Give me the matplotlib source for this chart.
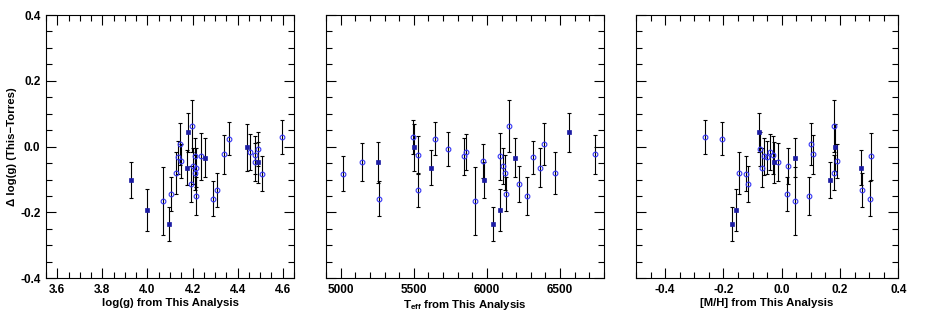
import matplotlib
matplotlib.use("Agg")
import matplotlib.pyplot as plt
from matplotlib.ticker import MultipleLocator, FormatStrFormatter

plt.rcParams['font.family'] = ['Liberation Sans', 'DejaVu Sans']
plt.rcParams['font.weight'] = 'bold'
plt.rcParams['mathtext.fontset'] = 'custom'
plt.rcParams['mathtext.rm'] = 'Liberation Sans:bold'
plt.rcParams['mathtext.bf'] = 'Liberation Sans:bold'
plt.rcParams['mathtext.it'] = 'Liberation Sans:bold'

# ---- data: squares (one sample) ----
sq_logg = [3.926, 3.997, 4.095, 4.181, 4.174, 4.256, 4.442, 4.490]
sq_teff = [5982, 6088, 6041, 6559, 5615, 6190, 5503, 5254]
sq_mh = [0.164, -0.156, -0.172, -0.079, 0.272, 0.045, 0.184, -0.026]
sq_dlogg = [-0.102, -0.193, -0.235, 0.043, -0.064, -0.034, -0.002, -0.048]
sq_err = [0.054, 0.064, 0.051, 0.058, 0.054, 0.059, 0.072, 0.063]

# ---- data: circles (other sample) ----
ci_logg = [4.199, 4.598, 4.361, 4.144, 4.491, 4.453, 4.339, 4.479, 4.212, 4.237,
           4.135, 4.147, 4.475, 4.204, 4.214, 4.209, 4.127, 4.507, 4.195, 4.308,
           4.105, 4.216, 4.289, 4.071]
ci_teff = [6149, 5492, 5646, 6389, 5732, 5856, 6740, 5526, 5840, 6089,
           6312, 5973, 5148, 6108, 6362, 6122, 6465, 5018, 6220, 5526,
           6131, 6271, 5265, 5920]
ci_mh = [0.181, -0.264, -0.204, 0.102, -0.073, -0.039, 0.109, -0.031, -0.061, 0.308,
         -0.052, 0.189, -0.012, 0.021, -0.067, 0.181, -0.145, -0.122, -0.114, 0.276,
         0.017, 0.093, 0.302, 0.047]
ci_dlogg = [0.064, 0.030, 0.024, 0.008, -0.008, -0.016, -0.024, -0.025, -0.030, -0.030,
            -0.032, -0.043, -0.047, -0.059, -0.064, -0.079, -0.079, -0.082, -0.113, -0.131,
            -0.144, -0.151, -0.159, -0.166]
ci_err = [0.079, 0.051, 0.051, 0.063, 0.051, 0.054, 0.058, 0.057, 0.057, 0.071,
          0.050, 0.051, 0.059, 0.055, 0.059, 0.052, 0.064, 0.052, 0.054, 0.052,
          0.051, 0.058, 0.053, 0.104]

xlabels = ["log(g) from This Analysis", r"T$_{\mathregular{eff}}$ from This Analysis",
           "[M/H] from This Analysis"]
ylabel = "\u0394 log(g) (This\u2212Torres)"
xlims = [(3.55, 4.65), (4900, 6800), (-0.5, 0.4)]
xmajor = [0.2, 500, 0.2]
xminor = [0.05, 100, 0.05]
xfmt = ["%.1f", "%d", "%.1f"]

W, H = 930, 310
fig = plt.figure(figsize=(9.3, 3.1), dpi=100)
boxes = [(46, 294), (326, 604), (636, 898.3)]
ytop, ybot = 15, 278.2

sq_x = [sq_logg, sq_teff, sq_mh]
ci_x = [ci_logg, ci_teff, ci_mh]

for i, (x0, x1) in enumerate(boxes):
    ax = fig.add_axes([x0 / W, 1 - ybot / H, (x1 - x0) / W, (ybot - ytop) / H])
    ax.errorbar(ci_x[i], ci_dlogg, yerr=ci_err, fmt='none', ecolor='black',
                elinewidth=0.8, capsize=1.4, capthick=0.8, zorder=2)
    ax.errorbar(sq_x[i], sq_dlogg, yerr=sq_err, fmt='none', ecolor='black',
                elinewidth=0.8, capsize=1.4, capthick=0.8, zorder=2)
    ax.plot(ci_x[i], ci_dlogg, 'o', ms=3.4, mfc='none', mec='#3535f5', mew=0.8,
            zorder=3, linestyle='none')
    ax.plot(sq_x[i], sq_dlogg, 's', ms=3.3, mfc='#1c1ca4', mec='#1c1ca4', mew=0.5,
            zorder=3, linestyle='none')
    ax.set_xlim(*xlims[i])
    ax.set_ylim(-0.4, 0.4)
    ax.xaxis.set_major_locator(MultipleLocator(xmajor[i]))
    ax.xaxis.set_minor_locator(MultipleLocator(xminor[i]))
    ax.xaxis.set_major_formatter(FormatStrFormatter(xfmt[i]))
    ax.yaxis.set_major_locator(MultipleLocator(0.2))
    ax.yaxis.set_minor_locator(MultipleLocator(0.05))
    ax.yaxis.set_major_formatter(FormatStrFormatter("%.1f"))
    ax.tick_params(which='both', direction='in', top=True, right=True, width=0.8,
                   labelsize=8.5, pad=4)
    ax.tick_params(which='major', length=7.2)
    ax.tick_params(which='minor', length=4.0)
    for s in ax.spines.values():
        s.set_linewidth(0.8)
    ax.set_xlabel(xlabels[i], fontsize=8.2, fontweight='bold', labelpad=1.5)
    if i == 0:
        ax.set_ylabel(ylabel, fontsize=8.2, fontweight='bold', labelpad=2)
    else:
        ax.tick_params(labelleft=False)

fig.savefig("out.png", dpi=100)
